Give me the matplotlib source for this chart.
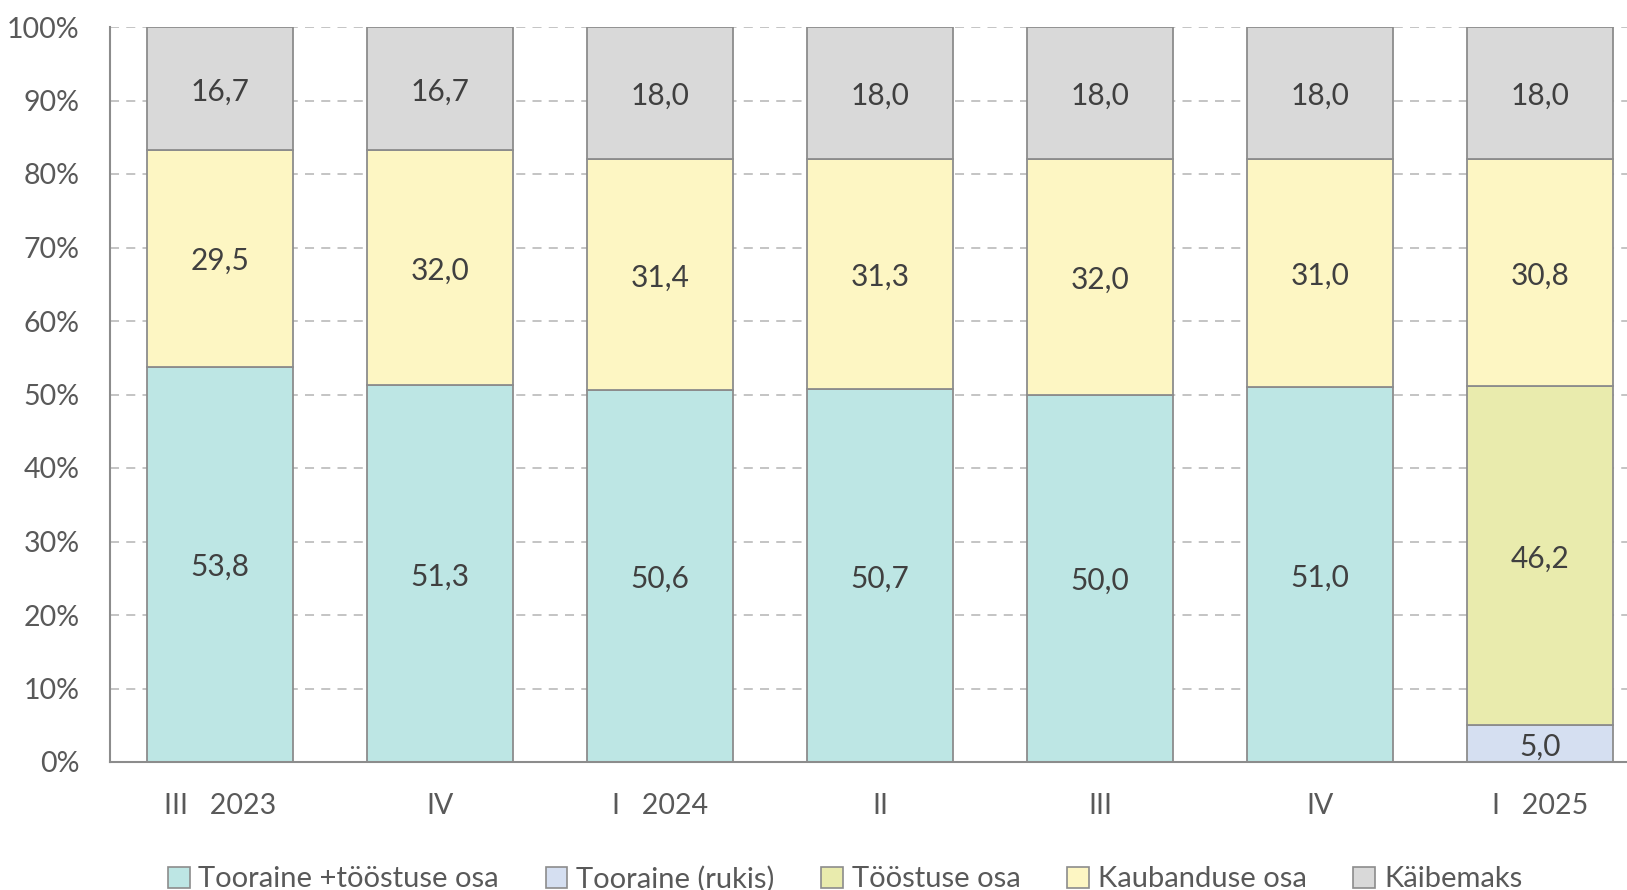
import matplotlib
matplotlib.use("Agg")
import matplotlib.pyplot as plt
import numpy as np

categories = ["III   2023", "IV", "I   2024", "II", "III", "IV", "I   2025"]
tooraine_toostus = [53.8, 51.3, 50.6, 50.7, 50.0, 51.0, 0.0]
tooraine_rukis = [0.0, 0.0, 0.0, 0.0, 0.0, 0.0, 5.0]
toostuse_osa = [0.0, 0.0, 0.0, 0.0, 0.0, 0.0, 46.2]
kaubanduse_osa = [29.5, 32.0, 31.4, 31.3, 32.0, 31.0, 30.8]
kaibemaks = [16.7, 16.7, 18.0, 18.0, 18.0, 18.0, 18.0]

series_names = ["Tooraine +tööstuse osa", "Tooraine (rukis)", "Tööstuse osa",
                "Kaubanduse osa", "Käibemaks"]
series = [tooraine_toostus, tooraine_rukis, toostuse_osa, kaubanduse_osa, kaibemaks]
colors = ["#BDE6E4", "#D5DFF1", "#E9EBAD", "#FDF6C3", "#D9D9D9"]

plt.rcParams['font.family'] = ['Lato', 'DejaVu Sans']

W, H = 1627, 890
fig = plt.figure(figsize=(W / 100, H / 100), dpi=100)
ax_left = 110 / W
ax_right = 1650 / W
ax_bottom = (H - 762) / H
ax_top = (H - 27) / H
ax = fig.add_axes([ax_left, ax_bottom, ax_right - ax_left, ax_top - ax_bottom])

x = np.arange(len(categories))
bottom = np.zeros(len(categories))
handles = []
for name, vals, col in zip(series_names, series, colors):
    vals = np.array(vals)
    mask = vals > 0
    ax.bar(x[mask], vals[mask], bottom=bottom[mask], width=0.665, color=col,
           edgecolor="#8C8C8C", linewidth=1.3, zorder=3, label=name)
    for xi, v, b in zip(x[mask], vals[mask], bottom[mask]):
        ax.text(xi, b + v / 2 - 0.4, f"{v:.1f}".replace(".", ","), ha="center", va="center",
                fontsize=21.5, color="#404040", zorder=4)
    bottom = bottom + vals
    handles.append(plt.Rectangle((0, 0), 1, 1, facecolor=col, edgecolor="#8C8C8C", linewidth=1.2))

ax.set_xlim(-0.5, len(categories) - 0.5)
ax.set_ylim(0, 100)
ax.set_yticks(np.arange(0, 101, 10))
ax.set_yticklabels([f"{v}%" for v in range(0, 101, 10)])
ax.set_xticks(x)
ax.set_xticklabels(categories)
ax.tick_params(axis="both", length=0, labelsize=20.5, labelcolor="#595959")
ax.tick_params(axis="x", pad=22)
ax.tick_params(axis="y", pad=22)
ax.yaxis.grid(True, linestyle=(0, (5, 4)), color="#BFBFBF", linewidth=1.3, zorder=0)
ax.set_axisbelow(True)
for s in ["top", "right"]:
    ax.spines[s].set_visible(False)
for s in ["left", "bottom"]:
    ax.spines[s].set_color("#8C8C8C")
    ax.spines[s].set_linewidth(1.5)
    ax.spines[s].set_zorder(5)

fig.legend(handles, series_names, loc="center", bbox_to_anchor=(845 / W, 11 / H),
           ncol=5, frameon=False, fontsize=21, handlelength=0.75, handleheight=0.75,
           handletextpad=0.3, columnspacing=1.6, labelcolor="#595959")

fig.savefig("out.png", dpi=100)
